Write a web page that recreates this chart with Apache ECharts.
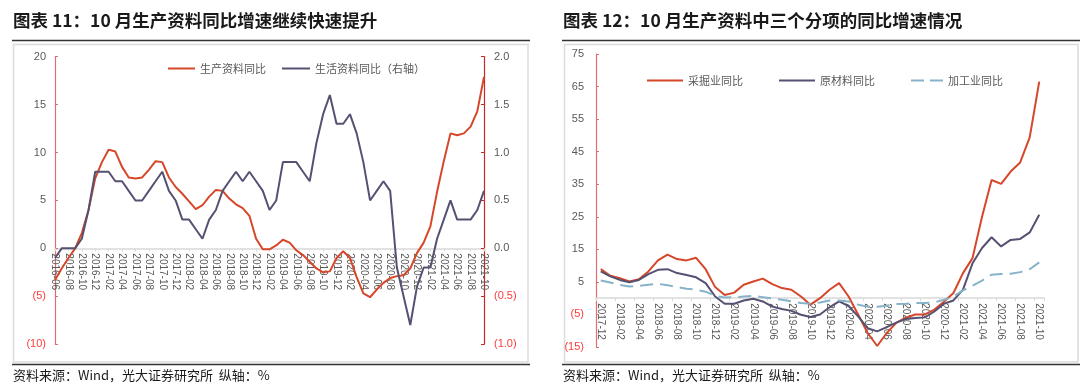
<!DOCTYPE html>
<html>
<head>
<meta charset="utf-8">
<script src="https://cdn.jsdelivr.net/npm/echarts@6/dist/echarts.min.js"></script>
<style>
html,body{margin:0;padding:0;background:#fff;}
#c{width:1080px;height:391px;}
</style>
</head>
<body>
<div id="c"></div>
<script>
// ---------- Chart 11 data ----------
const months11 = ['2016-06','2016-07','2016-08','2016-09','2016-10','2016-11','2016-12',
'2017-01','2017-02','2017-03','2017-04','2017-05','2017-06','2017-07','2017-08','2017-09','2017-10','2017-11','2017-12',
'2018-01','2018-02','2018-03','2018-04','2018-05','2018-06','2018-07','2018-08','2018-09','2018-10','2018-11','2018-12',
'2019-01','2019-02','2019-03','2019-04','2019-05','2019-06','2019-07','2019-08','2019-09','2019-10','2019-11','2019-12',
'2020-01','2020-02','2020-03','2020-04','2020-05','2020-06','2020-07','2020-08','2020-09','2020-10','2020-11','2020-12',
'2021-01','2021-02','2021-03','2021-04','2021-05','2021-06','2021-07','2021-08','2021-09','2021-10'];
const producerGoods = [-3.3,-2.1,-1.0,0.0,1.6,4.0,7.3,
9.0,10.3,10.1,8.5,7.4,7.3,7.4,8.2,9.1,9.0,7.4,6.4,
5.7,4.9,4.1,4.5,5.4,6.1,6.0,5.2,4.6,4.2,3.4,1.0,
-0.1,-0.1,0.3,0.9,0.6,-0.2,-0.7,-1.4,-2.1,-2.5,-2.4,-1.0,
-0.3,-1.0,-3.0,-4.7,-5.1,-4.3,-3.6,-3.1,-2.9,-2.8,-2.1,-0.5,
0.6,2.3,5.9,9.1,12.0,11.8,12.0,12.7,14.3,17.9];
const consumerGoods = [-0.1,0.0,0.0,0.0,0.1,0.4,0.8,
0.8,0.8,0.7,0.7,0.6,0.5,0.5,0.6,0.7,0.8,0.6,0.5,
0.3,0.3,0.2,0.1,0.3,0.4,0.6,0.7,0.8,0.7,0.8,0.7,
0.6,0.4,0.5,0.9,0.9,0.9,0.8,0.7,1.1,1.4,1.6,1.3,
1.3,1.4,1.2,0.9,0.5,0.6,0.7,0.6,-0.2,-0.5,-0.8,-0.4,
-0.2,-0.2,0.1,0.3,0.5,0.3,0.3,0.3,0.4,0.6];
const names11 = ['生产资料同比','生活资料同比（右轴）'];

// ---------- Chart 12 data ----------
const months12 = ['2017-12',
'2018-01','2018-02','2018-03','2018-04','2018-05','2018-06','2018-07','2018-08','2018-09','2018-10','2018-11','2018-12',
'2019-01','2019-02','2019-03','2019-04','2019-05','2019-06','2019-07','2019-08','2019-09','2019-10','2019-11','2019-12',
'2020-01','2020-02','2020-03','2020-04','2020-05','2020-06','2020-07','2020-08','2020-09','2020-10','2020-11','2020-12',
'2021-01','2021-02','2021-03','2021-04','2021-05','2021-06','2021-07','2021-08','2021-09','2021-10'];
const mining = [8.9,
6.9,6.1,5.1,5.8,8.2,11.6,13.4,12.0,11.6,12.4,8.9,3.4,
1.0,1.7,4.1,5.1,6.0,4.3,3.1,2.6,0.5,-2.0,0.0,2.6,
4.6,0.5,-5.0,-10.7,-14.7,-10.7,-7.6,-6.0,-5.0,-5.0,-3.5,-1.1,
1.6,7.7,12.3,25.0,36.3,35.1,38.9,41.7,49.4,66.5];
const rawMaterial = [8.2,
6.7,5.6,4.9,5.6,7.4,8.7,8.9,7.7,7.1,6.4,4.6,0.5,
-1.7,-1.7,-0.7,-0.2,-1.0,-2.6,-3.3,-3.9,-5.1,-5.8,-5.0,-2.8,
-1.0,-2.4,-5.6,-9.2,-10.2,-8.9,-7.5,-6.4,-6.1,-5.9,-4.1,-1.7,
-0.7,2.6,10.7,15.4,18.7,15.9,17.9,18.2,20.2,25.6];
const processing = [5.4,
4.8,4.1,3.6,3.8,4.1,4.4,4.0,3.4,2.9,2.6,2.0,0.7,
0.2,0.3,0.5,0.7,0.3,-0.1,-0.5,-1.0,-1.5,-1.7,-1.3,-0.7,
-0.7,-1.0,-2.0,-2.6,-2.6,-2.3,-1.8,-1.7,-1.5,-1.5,-1.3,-0.5,
0.5,2.4,3.8,5.4,7.2,7.4,7.5,8.0,8.9,11.0];
const names12 = ['采掘业同比','原材料同比','加工业同比'];

const titles = ['图表 11：10 月生产资料同比增速继续快速提升','图表 12：10 月生产资料中三个分项的同比增速情况'];
const sourceText = '资料来源：Wind，光大证券研究所  纵轴：%';

// ---------- style ----------
const RED = '#d6472a', PURPLE = '#555172', BLUE = '#86b3c9';
const GRAY = '#595959', NEG = '#ff3a3a';
const FONT = '"Liberation Sans","Noto Sans CJK SC",sans-serif';
const CJK = '"Noto Sans CJK SC",sans-serif';

// plot geometry
const G1 = {left:55, top:56.7, width:429, height:287.5};
const G2 = {left:596, top:54, width:448, height:293};
// label strips ending at the zero line of each chart
const G1z = {left:55, top:56.7, width:429, height:287.5 * 20 / 30};
const G2z = {left:596, top:54, width:448, height:293 * 75 / 90};

function negFmt(dec){
  return function(v){
    const s = dec ? Math.abs(v).toFixed(1) : String(Math.abs(v));
    return v < 0 ? '{n|(' + s + ')}' : '{p|' + s + '}';
  };
}
const richLab = {n:{color:NEG,fontSize:11,fontFamily:FONT}, p:{color:GRAY,fontSize:11,fontFamily:FONT}};

function yAxisBase(gi, min, max, interval, pos, lineColor, dec, margin){
  return {
    type:'value', gridIndex:gi, min:min, max:max, interval:interval, position:pos,
    axisLine:{show:true, onZero:false, lineStyle:{color:lineColor, width:1.2}},
    axisTick:{show:true, inside:true, length:3, lineStyle:{color:lineColor}},
    splitLine:{show:false},
    axisLabel:{formatter:negFmt(dec), rich:richLab, margin:margin}
  };
}
function hiddenX(gi, data, gap){
  return {type:'category', gridIndex:gi, data:data, boundaryGap:gap, show:false};
}
function labelX(gi, data, gap){
  return {
    type:'category', gridIndex:gi, data:data, boundaryGap:gap, position:'bottom',
    axisLine:{show:true, onZero:false, lineStyle:{color:'#d9d9d9', width:1.5}},
    axisTick:{show:true, length:3, interval:1, lineStyle:{color:'#d9d9d9'}},
    axisLabel:{rotate:-90, interval:1, fontSize:10, color:GRAY, fontFamily:FONT, margin:5}
  };
}
function dummyY(gi){
  return {type:'value', gridIndex:gi, min:0, max:1, show:false};
}
function lineSeries(name, data, color, xi, yi, dash){
  return {
    name:name, type:'line', xAxisIndex:xi, yAxisIndex:yi, data:data,
    symbol:'none', smooth:false,
    lineStyle:{color:color, width:2, type: dash || 'solid'},
    itemStyle:{color:color}, emphasis:{disabled:true}
  };
}
const SOLID_ICON = 'path://M0,0H36V2H0Z';
const DASH_ICON = 'path://M0,0H13V2H0Z M19,0H32V2H19Z';
function legendAt(name, left, top, w, icon){
  return {data:[{name:name, icon:icon}], left:left, top:top, itemWidth:w, itemHeight:2, itemGap:4,
    symbolKeepAspect:false,
    textStyle:{color:GRAY, fontSize:11, fontFamily:CJK}, selectedMode:false};
}

const chart = echarts.init(document.getElementById('c'), null, {renderer:'canvas'});
chart.setOption({
  animation:false,
  backgroundColor:'#ffffff',
  grid:[G1, G2, G1z, G2z],
  xAxis:[ hiddenX(0, months11, false), hiddenX(1, months12, true),
          labelX(2, months11, false), labelX(3, months12, true) ],
  yAxis:[
    yAxisBase(0, -10, 20, 5, 'left', '#dc7070', false, 9),
    yAxisBase(0, -1, 2, 0.5, 'right', '#c62828', true, 10),
    yAxisBase(1, -15, 75, 10, 'left', '#dc7070', false, 12),
    dummyY(2), dummyY(3)
  ],
  legend:[
    legendAt(names11[0], 163, 58, 27, SOLID_ICON),
    legendAt(names11[1], 277, 58, 28, SOLID_ICON),
    legendAt(names12[0], 642, 70, 36, SOLID_ICON),
    legendAt(names12[1], 774, 70, 36, SOLID_ICON),
    legendAt(names12[2], 906, 70, 32, DASH_ICON)
  ],
  series:[
    lineSeries(names11[0], producerGoods, RED, 0, 0),
    lineSeries(names11[1], consumerGoods, PURPLE, 0, 1),
    lineSeries(names12[0], mining, RED, 1, 2),
    lineSeries(names12[1], rawMaterial, PURPLE, 1, 2),
    lineSeries(names12[2], processing, BLUE, 1, 2, [13,7])
  ],
  graphic:[
    {type:'rect', z:-1, shape:{x:13.5, y:44.5, width:514.5, height:317.5}, style:{fill:'#ffffff', stroke:'#dcdcdc', lineWidth:1.5}},
    {type:'rect', z:-1, shape:{x:564.5, y:44.5, width:513.5, height:317.5}, style:{fill:'#ffffff', stroke:'#dcdcdc', lineWidth:1.5}},
    {type:'line', shape:{x1:12, y1:40.5, x2:530, y2:40.5}, style:{stroke:'#333333', lineWidth:1.5}},
    {type:'line', shape:{x1:562, y1:40.5, x2:1080, y2:40.5}, style:{stroke:'#333333', lineWidth:1.5}},
    {type:'line', shape:{x1:12, y1:364.5, x2:530, y2:364.5}, style:{stroke:'#333333', lineWidth:1.5}},
    {type:'line', shape:{x1:562, y1:364.5, x2:1080, y2:364.5}, style:{stroke:'#333333', lineWidth:1.5}},
    {type:'text', style:{x:13, y:20, text:titles[0], font:'bold 17.5px "Noto Sans CJK SC"', fill:'#1a1a1a', verticalAlign:'middle', textVerticalAlign:'middle'}},
    {type:'text', style:{x:563, y:20, text:titles[1], font:'bold 17.5px "Noto Sans CJK SC"', fill:'#1a1a1a', verticalAlign:'middle', textVerticalAlign:'middle'}},
    {type:'text', style:{x:13, y:375, text:sourceText, font:'13px "Noto Sans CJK SC"', fill:'#1a1a1a', verticalAlign:'middle', textVerticalAlign:'middle'}},
    {type:'text', style:{x:563, y:375, text:sourceText, font:'13px "Noto Sans CJK SC"', fill:'#1a1a1a', verticalAlign:'middle', textVerticalAlign:'middle'}}
  ]
});
</script>
</body>
</html>
